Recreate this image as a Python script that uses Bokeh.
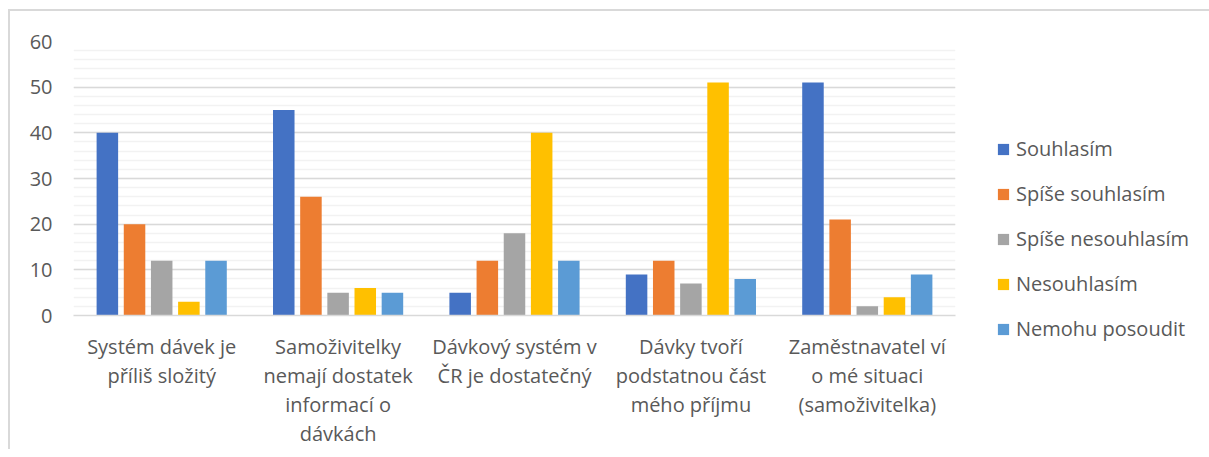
from bokeh.plotting import figure
from bokeh.models import FactorRange, Range1d, SingleIntervalTicker, Legend, LegendItem, ColumnDataSource
from bokeh.transform import dodge
from bokeh.embed import file_html
from bokeh.resources import INLINE

categories = [
    "Systém dávek je\npříliš složitý",
    "Samoživitelky\nnemají dostatek\ninformací o\ndávkách",
    "Dávkový systém v\nČR je dostatečný",
    "Dávky tvoří\npodstatnou část\nmého příjmu",
    "Zaměstnavatel ví\no mé situaci\n(samoživitelka)",
]
series_names = ["Souhlasím", "Spíše souhlasím", "Spíše nesouhlasím", "Nesouhlasím", "Nemohu posoudit"]
souhlasim = [40, 45, 5, 9, 51]
spise_souhlasim = [20, 26, 12, 12, 21]
spise_nesouhlasim = [12, 5, 18, 7, 2]
nesouhlasim = [3, 6, 40, 51, 4]
nemohu_posoudit = [12, 5, 12, 8, 9]
series_values = [souhlasim, spise_souhlasim, spise_nesouhlasim, nesouhlasim, nemohu_posoudit]
colors = ["#4472C4", "#ED7D31", "#A5A5A5", "#FFC000", "#5B9BD5"]

FONT = "Open Sans"
TEXT = "#595959"

src = ColumnDataSource(dict(cat=categories, **{f"s{i}": v for i, v in enumerate(series_values)}))

p = figure(
    x_range=FactorRange(*categories), y_range=Range1d(0, 60),
    frame_width=882, frame_height=274,
    min_border_left=63, min_border_top=30, min_border_bottom=20, min_border_right=250,
    output_backend="svg", toolbar_location=None,
    styles={"border-top": "2px solid #d9d9d9", "border-left": "2px solid #d9d9d9",
            "margin-left": "8px", "margin-top": "9px"},
)
p.outline_line_color = None
p.background_fill_color = "white"
p.border_fill_color = "white"

pitch = 0.154
bw = 0.122
items = []
for i, (name, col) in enumerate(zip(series_names, colors)):
    r = p.vbar(x=dodge("cat", (i - 2) * pitch, range=p.x_range), top=f"s{i}", width=bw,
               source=src, fill_color=col, line_color=None)
    items.append(LegendItem(label=name, renderers=[r]))

# y axis
p.yaxis.ticker = SingleIntervalTicker(interval=10, num_minor_ticks=5)
p.yaxis.axis_line_color = None
p.yaxis.major_tick_line_color = None
p.yaxis.minor_tick_line_color = None
p.yaxis.major_label_text_font = FONT
p.yaxis.major_label_text_font_size = "20px"
p.yaxis.major_label_text_color = TEXT
p.yaxis.major_label_standoff = 15

# x axis
p.xaxis.axis_line_color = "#d9d9d9"
p.xaxis.axis_line_width = 1.5
p.xaxis.major_tick_line_color = None
p.xaxis.minor_tick_line_color = None
p.xaxis.major_label_text_font = FONT
p.xaxis.major_label_text_font_size = "20px"
p.xaxis.major_label_text_color = TEXT
p.xaxis.major_label_standoff = 11
p.xaxis.major_label_text_line_height = 1.08

p.xgrid.grid_line_color = None
p.ygrid.grid_line_color = "#d9d9d9"
p.ygrid.grid_line_width = 1.5
p.ygrid.minor_grid_line_color = "#f2f2f2"
p.ygrid.minor_grid_line_width = 1.5

legend = Legend(items=items, location=(41, -27), orientation="vertical")
legend.label_text_font = FONT
legend.label_text_font_size = "20px"
legend.label_text_color = TEXT
legend.glyph_width = 14
legend.glyph_height = 14
legend.label_standoff = 6
legend.spacing = 18
legend.padding = 0
legend.margin = 0
legend.border_line_color = None
legend.background_fill_alpha = 0
p.add_layout(legend, "right")

open("out.html", "w").write(file_html(p, INLINE))
